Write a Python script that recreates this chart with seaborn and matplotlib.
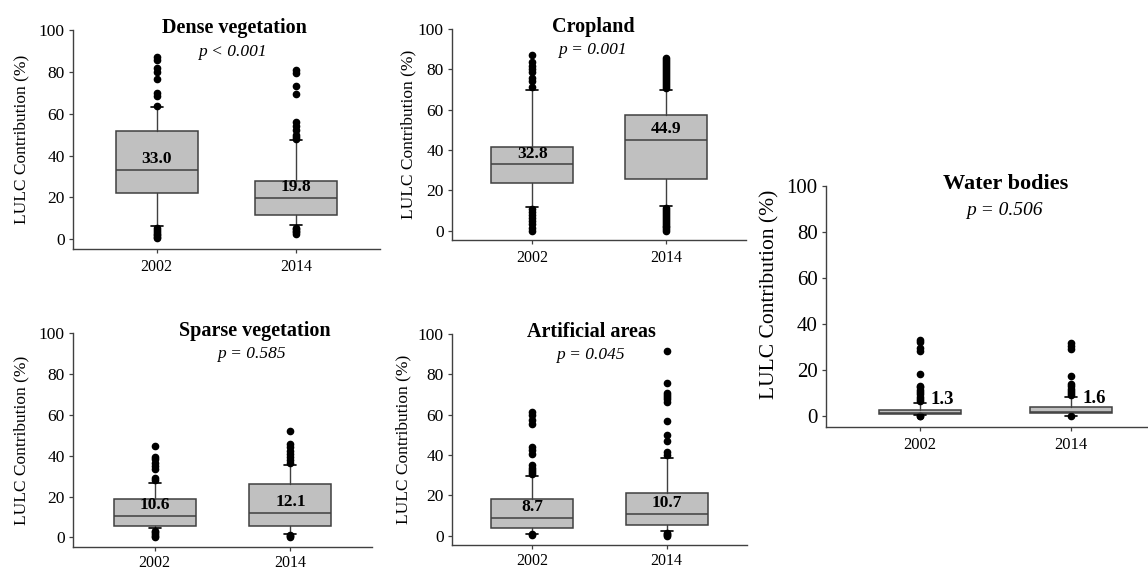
import matplotlib
matplotlib.use("Agg")
import matplotlib.pyplot as plt
import seaborn as sns

sns.set_theme(style="ticks")
plt.rcParams['font.family'] = ['Liberation Serif', 'DejaVu Serif']
plt.rcParams['text.color'] = 'black'
plt.rcParams['axes.labelcolor'] = 'black'
plt.rcParams['xtick.color'] = 'black'
plt.rcParams['ytick.color'] = 'black'

# ------------------------------------------------------------
# Data
# ------------------------------------------------------------
land_covers = ['Dense vegetation', 'Cropland', 'Sparse vegetation',
               'Artificial areas', 'Water bodies']
p_labels = ['p < 0.001', 'p = 0.001', 'p = 0.585', 'p = 0.045', 'p = 0.506']
years = ['2002', '2014']

medians = [[33.0, 19.8], [32.8, 44.9], [10.6, 12.1], [8.7, 10.7], [1.3, 1.6]]
q1s = [[22.0, 11.5], [23.8, 25.7], [5.7, 5.4], [3.8, 5.1], [0.8, 1.2]]
q3s = [[51.7, 27.8], [41.6, 57.4], [19.0, 26.3], [18.0, 21.2], [2.7, 4.2]]
whis_lo = [[6.2, 6.7], [11.9, 12.4], [4.5, 1.6], [1.0, 2.1], [0.5, 0.2]]
whis_hi = [[63.2, 47.2], [69.8, 69.8], [26.8, 35.3], [29.4, 38.5], [5.9, 8.5]]

fliers = [
    [[0.5, 1.0, 1.8, 2.6, 3.5, 4.5, 5.5, 63.5, 68.4, 69.9, 76.6, 79.9, 81.8, 85.6, 87.1],
     [2.5, 3.2, 4.0, 4.8, 5.5, 48.0, 49.0, 50.0, 52.0, 54.0, 56.0, 69.4, 73.2, 79.4, 80.9]],
    [[0.0, 1.5, 3.0, 4.5, 6.0, 7.5, 9.0, 10.5, 71.3, 74.0, 75.7, 78.7, 80.2, 81.7, 83.7, 87.1],
     [0.0, 0.8, 1.6, 2.4, 3.2, 4.0, 5.0, 6.0, 7.0, 8.0, 9.0, 10.0, 11.0,
      70.5, 71.5, 72.5, 73.5, 74.5, 75.5, 76.5, 77.5, 78.5, 79.5, 80.5, 81.5, 82.5, 83.5, 84.5, 85.6]],
    [[0.0, 0.8, 1.6, 2.4, 3.2, 28.3, 29.3, 33.6, 34.8, 36.2, 38.2, 39.5, 44.8],
     [0.0, 0.5, 1.0, 36.5, 38.0, 39.5, 41.0, 42.5, 44.0, 45.5, 52.0]],
    [[0.3, 0.6, 30.5, 31.5, 32.5, 33.5, 34.8, 40.6, 42.2, 43.9, 55.4, 57.1, 59.6, 61.2],
     [0.0, 0.5, 1.0, 1.5, 39.8, 41.4, 46.7, 50.1, 56.8, 66.3, 67.5, 68.5, 69.5, 70.8, 75.6, 91.7]],
    [[0.0, 0.2, 6.5, 7.5, 8.5, 9.5, 10.5, 11.5, 12.5, 13.1, 18.5, 28.3, 29.7, 32.2, 33.3],
     [0.0, 9.0, 10.0, 11.0, 12.0, 13.0, 13.9, 17.4, 29.3, 30.5, 31.9]],
]

# ------------------------------------------------------------
# Layout (pixel boxes: left, top, right, bottom) and text placement
# ------------------------------------------------------------
W, H = 1148, 572
panel_px = [(73, 30, 380, 249), (452, 29, 746, 240), (73, 333, 372, 547),
            (452, 334, 747, 545), (826, 186, 1148, 427)]
x_limits = [(-0.6, 1.6)] * 4 + [(-0.62, 1.51)]
title_x = [0.56, 0.455, 0.74, 0.44, 0.57]
p_x = [0.54, 0.45, 0.71, 0.43, 0.56]
ylabel_off = [44, 36, 44, 41, 47]

edge = '#404040'
box_fill = '#c0c0c0'

fig = plt.figure(figsize=(W / 100, H / 100), dpi=100)

for i, name in enumerate(land_covers):
    l, t, r, b = panel_px[i]
    ax = fig.add_axes([l / W, 1 - b / H, (r - l) / W, (b - t) / H])
    big = (i == 4)

    stats = []
    for j in range(2):
        stats.append(dict(med=medians[i][j], q1=q1s[i][j], q3=q3s[i][j],
                          whislo=whis_lo[i][j], whishi=whis_hi[i][j],
                          fliers=fliers[i][j]))
    unit = (r - l) / (x_limits[i][1] - x_limits[i][0])
    ax.bxp(stats, positions=[0, 1], widths=82 / unit, capwidths=12 / unit,
           patch_artist=True,
           boxprops=dict(facecolor=box_fill, edgecolor=edge, linewidth=1.1),
           medianprops=dict(color=edge, linewidth=1.1),
           whiskerprops=dict(color=edge, linewidth=1.0),
           capprops=dict(color='black', linewidth=1.2),
           flierprops=dict(marker='o', markerfacecolor='black',
                           markeredgecolor='black', markersize=4.5))

    ax.set_xlim(*x_limits[i])
    ax.set_ylim(-4.7, 100)
    ax.set_xticks([0, 1], years)
    ax.set_yticks(range(0, 101, 20))
    sns.despine(ax=ax)
    for s in ['left', 'bottom']:
        ax.spines[s].set_color(edge)
        ax.spines[s].set_linewidth(1.0)
    ax.tick_params(axis='both', direction='out', length=3, width=0.9, color=edge)
    ax.tick_params(axis='y', labelsize=15 if big else 12.5, pad=3)
    ax.tick_params(axis='x', labelsize=12 if big else 11.5,
                   pad=2.5 if i in (2, 3) else 4)
    ax.set_ylabel('LULC Contribution (%)', fontsize=15.5 if big else 12.5)
    ax.yaxis.set_label_coords(-ylabel_off[i] / (r - l), 0.55 if big else 0.5)

    ax.text(title_x[i], 101, name, ha='center', va='center',
            fontsize=16 if big else 14.5, fontweight='bold')
    ax.text(p_x[i], 89.5, p_labels[i], ha='center', va='center',
            fontsize=14 if big else 12.5, fontstyle='italic')

    for j in range(2):
        lab = f'{medians[i][j]:.1f}'
        if big:
            ax.annotate(lab, (j, medians[i][j]), xytext=(8, 10),
                        textcoords='offset points', ha='left', va='center',
                        fontsize=13.5, fontweight='bold')
        else:
            ax.annotate(lab, (j, medians[i][j]), xytext=(0, 2),
                        textcoords='offset points', ha='center', va='bottom',
                        fontsize=12.5, fontweight='bold')

plt.savefig('out.png', dpi=100)
